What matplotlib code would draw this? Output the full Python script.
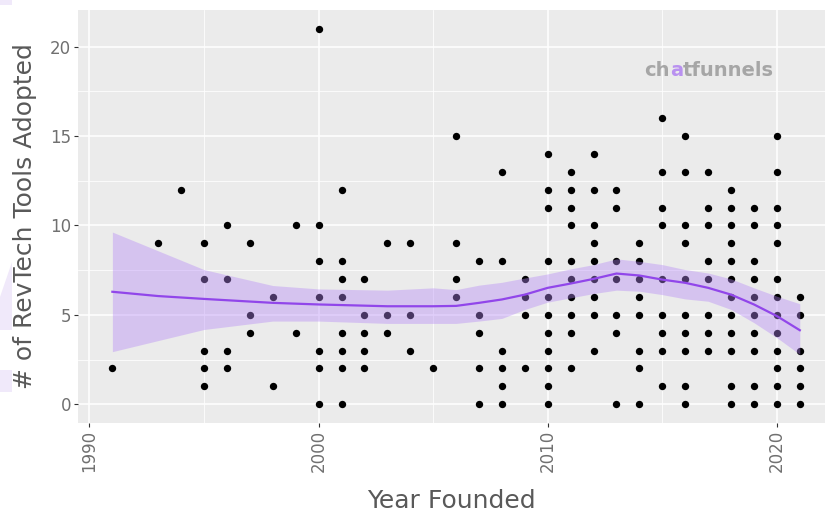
import matplotlib
matplotlib.use("Agg")
import matplotlib.pyplot as plt
from matplotlib.patches import Polygon
from matplotlib.offsetbox import TextArea, HPacker, AnchoredOffsetbox

plt.rcParams['font.family'] = ['DejaVu Sans']

# companies: founding year -> tool counts seen for that year
counts_by_year = {
    1991: [2],
    1993: [9],
    1994: [12],
    1995: [9, 7, 3, 2, 1],
    1996: [10, 7, 3, 2],
    1997: [9, 5, 4],
    1998: [6, 1],
    1999: [10, 4],
    2000: [21, 10, 8, 6, 3, 2, 0],
    2001: [12, 8, 7, 6, 4, 3, 2, 0],
    2002: [7, 5, 4, 3, 2],
    2003: [9, 5, 4],
    2004: [9, 5, 3],
    2005: [2],
    2006: [15, 9, 7, 6],
    2007: [8, 5, 4, 2, 0],
    2008: [13, 8, 3, 2, 1, 0],
    2009: [7, 6, 5, 2],
    2010: [14, 12, 11, 8, 6, 5, 4, 3, 2, 1, 0],
    2011: [13, 12, 11, 10, 8, 7, 6, 5, 4, 2],
    2012: [14, 12, 10, 9, 8, 7, 6, 5, 3],
    2013: [12, 11, 8, 7, 5, 4, 0],
    2014: [9, 8, 7, 6, 5, 3, 2, 0],
    2015: [16, 13, 11, 10, 7, 5, 4, 3, 1],
    2016: [15, 13, 10, 9, 7, 5, 4, 3, 1, 0],
    2017: [13, 11, 10, 8, 7, 5, 4, 3],
    2018: [12, 11, 10, 9, 8, 7, 6, 5, 4, 3, 1, 0],
    2019: [11, 10, 8, 7, 6, 5, 4, 3, 1, 0],
    2020: [15, 13, 11, 10, 9, 7, 6, 5, 4, 3, 2, 1, 0],
    2021: [6, 5, 3, 2, 1, 0],
}
years = [y for y, vals in counts_by_year.items() for _ in vals]
tools = [v for vals in counts_by_year.values() for v in vals]

# loess trend and its confidence band
fit_years = [1991, 1993, 1995, 1998, 2000, 2003, 2005, 2006, 2007, 2008, 2009, 2010,
             2011, 2012, 2013, 2014, 2015, 2016, 2017, 2018, 2019, 2020, 2021]
fit_mid = [6.29, 6.05, 5.89, 5.67, 5.58, 5.48, 5.48, 5.50, 5.67, 5.86, 6.13, 6.51,
           6.75, 7.01, 7.31, 7.20, 6.97, 6.79, 6.51, 6.13, 5.58, 4.93, 4.14]
fit_hi = [9.63, 8.58, 7.53, 6.64, 6.45, 6.38, 6.51, 6.41, 6.66, 6.82, 7.06, 7.29,
          7.57, 7.81, 8.13, 7.99, 7.81, 7.53, 7.34, 7.01, 6.51, 6.04, 5.62]
fit_lo = [2.94, 3.56, 4.18, 4.65, 4.65, 4.52, 4.52, 4.52, 4.65, 4.80, 5.30, 5.71,
          5.95, 6.19, 6.38, 6.32, 6.13, 5.89, 5.76, 5.30, 4.56, 3.72, 2.79]

x_ticks = [1990, 2000, 2010, 2020]
y_ticks = [0, 5, 10, 15, 20]

W, H = 825, 516
fig = plt.figure(figsize=(W / 100, H / 100), dpi=100)

# faint logo shapes behind the chart
lav = '#F0E9FA'
for pts in ([(0, 0), (12, 0), (12, 5), (0, 5)],
            [(0, 297), (12, 262), (12, 330), (0, 330)],
            [(0, 370), (12, 370), (12, 392), (0, 392)]):
    fig.patches.append(Polygon([(x / W, 1 - y / H) for x, y in pts], closed=True,
                               transform=fig.transFigure, color=lav, lw=0, zorder=0))

ax = fig.add_axes([78 / W, (H - 423) / H, 1 - 78 / W, (423 - 10) / H])
ax.set_facecolor('#EBEBEB')
for s in ax.spines.values():
    s.set_visible(False)

ax.set_xlim(1989.5, 2022.1)
ax.set_ylim(-1.05, 22.05)
ax.set_xticks(x_ticks)
ax.set_yticks(y_ticks)
ax.set_xticks([1995, 2005, 2015], minor=True)
ax.set_yticks([2.5, 7.5, 12.5, 17.5], minor=True)
ax.grid(which='major', color='white', lw=1.1)
ax.grid(which='minor', color='white', lw=0.55)
ax.set_axisbelow(True)
ax.tick_params(which='major', length=3, width=0.8, color='#333333',
               labelsize=12, labelcolor='#707070', pad=2)
ax.tick_params(which='minor', length=0)
ax.tick_params(axis='x', labelrotation=90)

ax.scatter(years, tools, s=28, color='black', lw=0, zorder=2)
ax.fill_between(fit_years, fit_lo, fit_hi, color='#B689F7', alpha=0.4, lw=0, zorder=3)
ax.plot(fit_years, fit_mid, color='#9146EA', lw=1.6, zorder=4)

ax.set_xlabel('Year Founded', fontsize=18, color='#595959', labelpad=12)
ax.set_ylabel('# of RevTech Tools Adopted', fontsize=18, color='#595959', labelpad=9)

# brand mark
parts = [TextArea(t, textprops=dict(color=c, fontsize=14, fontweight='bold'))
         for t, c in (('ch', '#A6A6A6'), ('a', '#B991F0'), ('tfunnels', '#A6A6A6'))]
box = HPacker(children=parts, align='baseline', pad=0, sep=0)
ax.add_artist(AnchoredOffsetbox(loc='center', child=box, frameon=False,
                                bbox_to_anchor=(709 / W, 1 - 71 / H),
                                bbox_transform=fig.transFigure, borderpad=0))

fig.savefig('out.png', dpi=100)
